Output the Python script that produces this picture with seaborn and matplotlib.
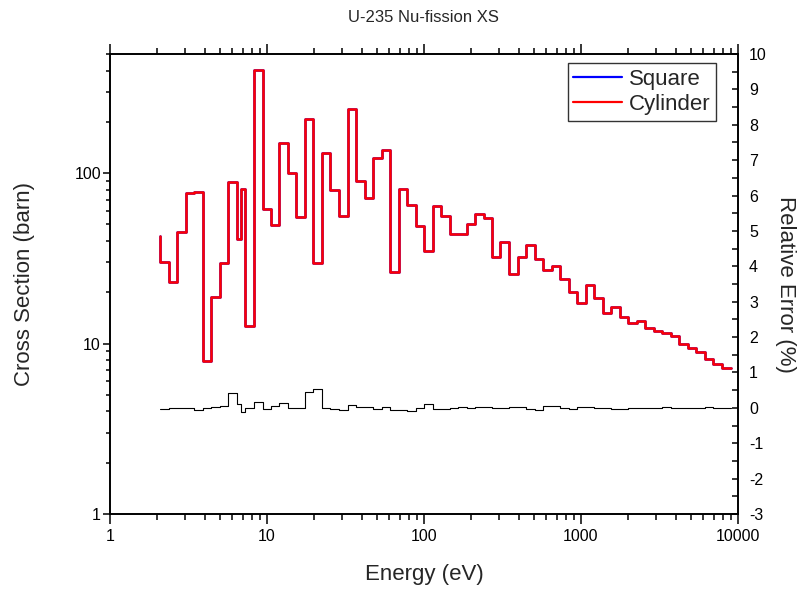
import numpy as np
import pandas as pd
import matplotlib
matplotlib.use("Agg")
import matplotlib.pyplot as plt
import seaborn as sns
from matplotlib.ticker import LogLocator, MultipleLocator, NullFormatter, FixedLocator, FixedFormatter
from matplotlib.lines import Line2D

# ---- data ----
energy = [2.091, 2.376, 2.684, 3.035, 3.443, 3.894, 4.418, 4.997, 5.643, 6.440,
          6.800, 7.275, 8.265, 9.389, 10.56, 11.92, 13.55, 15.37, 17.46, 19.72,
          22.40, 25.31, 28.74, 32.66, 36.90, 41.91, 47.55, 53.78, 60.74, 69.02,
          77.95, 88.54, 100.0, 113.6, 128.3, 145.8, 165.1, 187.1, 211.3, 240.1,
          271.1, 306.2, 347.8, 395.3, 446.3, 507.2, 572.8, 650.7, 738.2, 835.1,
          938.9, 1071, 1210, 1375, 1546, 1764, 2001, 2263, 2568, 2905,
          3295, 3726, 4227, 4781, 5401, 6137, 6962, 7873, 9024]

xs_cylinder = [42.9, 29.9, 23.0, 45.3, 76.3, 77.4, 7.93, 18.7, 29.8, 88.6,
               41.0, 80.9, 12.7, 402, 61.7, 49.4, 150.5, 99.6, 55.4, 207.4,
               29.8, 131.5, 79.8, 56.2, 237.4, 90.1, 71.6, 122.0, 136.4, 26.2,
               80.2, 65.2, 48.7, 35.0, 64.0, 56.2, 43.9, 43.9, 50.0, 57.7,
               54.7, 32.0, 39.5, 25.6, 32.0, 37.8, 31.3, 27.0, 28.4, 23.8,
               20.1, 17.2, 22.0, 18.6, 15.2, 16.4, 14.4, 13.2, 13.6, 12.3,
               11.9, 11.6, 11.1, 9.97, 9.37, 8.88, 8.08, 7.55, 7.15]

rel_error = [-0.02, -0.02, 0.00, 0.00, -0.01, -0.05, -0.01, 0.03, 0.05, 0.41,
             0.11, -0.12, 0.00, 0.16, -0.02, 0.04, 0.13, 0.00, 0.00, 0.45,
             0.53, -0.01, -0.03, -0.06, 0.07, 0.03, 0.03, -0.02, 0.02, -0.05,
             -0.05, -0.09, -0.01, 0.12, -0.04, -0.03, -0.01, 0.03, -0.01, 0.03,
             0.03, 0.00, -0.01, 0.01, 0.01, -0.03, -0.07, 0.05, 0.05, 0.00,
             -0.04, 0.03, 0.03, 0.00, -0.01, -0.03, -0.03, 0.00, 0.00, 0.00,
             0.00, 0.01, 0.00, 0.00, 0.00, 0.00, 0.01, 0.00, 0.00]

# Square and Cylinder results are practically identical
xs_square = list(xs_cylinder)

x_ticks = [1, 10, 100, 1000, 10000]
x_tick_labels = ["1", "10", "100", "1000", "10000"]
y_ticks = [1, 10, 100]
y_tick_labels = ["1", "10", "100"]
y2_ticks = list(range(-3, 11))
y2_tick_labels = [str(v) for v in y2_ticks]

df = pd.DataFrame({"energy": energy, "Square": xs_square,
                   "Cylinder": xs_cylinder, "err": rel_error})

# ---- style ----
sns.set_theme(style="ticks")
plt.rcParams["font.family"] = ["Liberation Sans", "DejaVu Sans"]
plt.rcParams["axes.unicode_minus"] = False

fig = plt.figure(figsize=(8.03, 5.92), dpi=100)
L, R, T, B = 110, 738, 54, 514
W, H = 803, 592
ax = fig.add_axes([L / W, (H - B) / H, (R - L) / W, (B - T) / H])
ax2 = ax.twinx()

sns.lineplot(data=df, x="energy", y="Square", ax=ax, color="#0000ff",
             lw=1.8, drawstyle="steps-pre", estimator=None, sort=False)
sns.lineplot(data=df, x="energy", y="Cylinder", ax=ax, color="#ff0000",
             lw=1.8, drawstyle="steps-pre", estimator=None, sort=False)
sns.lineplot(data=df, x="energy", y="err", ax=ax2, color="black", lw=0.8,
             drawstyle="steps-pre", estimator=None, sort=False)

ax.set_xscale("log")
ax.set_yscale("log")
ax.set_xlim(1, 10000)
ax.set_ylim(1, 500)
ax2.set_ylim(-3, 10)

ax.xaxis.set_major_locator(FixedLocator(x_ticks))
ax.xaxis.set_major_formatter(FixedFormatter(x_tick_labels))
ax.xaxis.set_minor_locator(LogLocator(base=10, subs=np.arange(2, 10), numticks=20))
ax.xaxis.set_minor_formatter(NullFormatter())
ax.yaxis.set_major_locator(FixedLocator(y_ticks))
ax.yaxis.set_major_formatter(FixedFormatter(y_tick_labels))
ax.yaxis.set_minor_locator(LogLocator(base=10, subs=np.arange(2, 10), numticks=20))
ax.yaxis.set_minor_formatter(NullFormatter())

ax.tick_params(axis="both", which="both", direction="out", colors="black",
               labelsize=11.5, width=1.1, top=True, right=False)
ax.tick_params(axis="x", which="major", length=7.5, pad=3)
ax.tick_params(axis="x", which="minor", length=4)
ax.tick_params(axis="y", which="major", length=5, pad=1.5)
ax.tick_params(axis="y", which="minor", length=3)

ax.set_xlabel("Energy (eV)", fontsize=16)
ax.set_ylabel("Cross Section (barn)", fontsize=16)
ax.xaxis.set_label_coords(0.5, -0.108)
ax.yaxis.set_label_coords(-0.119, 0.5)

ax2.yaxis.set_major_locator(FixedLocator(y2_ticks))
ax2.yaxis.set_major_formatter(FixedFormatter(y2_tick_labels))
ax2.yaxis.set_minor_locator(MultipleLocator(0.5))
ax2.tick_params(axis="y", which="both", direction="in", length=4.5,
                width=1.1, labelsize=11.5, pad=8, colors="black")
ax2.set_ylabel("Relative Error (%)", fontsize=16, rotation=270)
ax2.yaxis.set_label_coords(1.092, 0.5)

for a in (ax, ax2):
    for sp in a.spines.values():
        sp.set_linewidth(1.2)
        sp.set_color("black")

# ---- legend ----
handles = [Line2D([], [], color="#0000ff", lw=1.6),
           Line2D([], [], color="#ff0000", lw=1.6)]
leg = ax2.legend(handles, ["Square", "Cylinder"], loc="upper right",
                 bbox_to_anchor=(0.965, 0.98), borderaxespad=0,
                 fontsize=16, frameon=True, fancybox=False,
                 handlelength=2.2, handletextpad=0.3, borderpad=0.25,
                 labelspacing=0.2)
leg.get_frame().set_edgecolor("black")
leg.get_frame().set_linewidth(1.0)

fig.text(423 / W, 1 - 18 / H, "U-235 Nu-fission XS", ha="center",
         va="center", fontsize=12)

fig.savefig("out.png", dpi=100)
